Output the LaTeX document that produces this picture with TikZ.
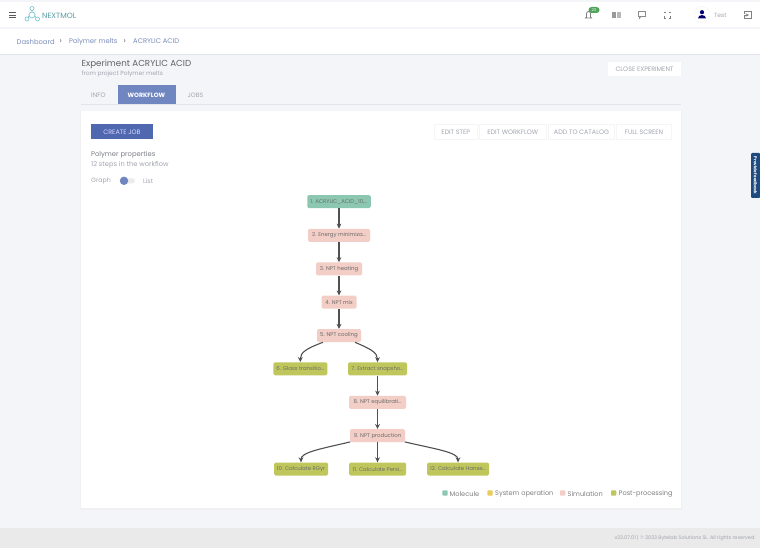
\documentclass[tikz,border=0pt]{standalone}
\usepackage{fontspec}
\usetikzlibrary{arrows.meta}
\setmainfont{Poppins}
\definecolor{pagebg}{HTML}{F3F5F9}
\definecolor{footbg}{HTML}{EAEAEA}
\definecolor{rulegrey}{HTML}{E1E4EC}
\definecolor{bluedark}{HTML}{4F68B0}
\definecolor{bluetab}{HTML}{6F86C0}
\definecolor{linkblue}{HTML}{7A8CB8}
\definecolor{textgrey}{HTML}{7C7F88}
\definecolor{lightgrey}{HTML}{A3A6B0}
\definecolor{molcol}{HTML}{8CC8B1}
\definecolor{syscol}{HTML}{EBCB5C}
\definecolor{simcol}{HTML}{F3CEC6}
\definecolor{postcol}{HTML}{BFC75C}
\definecolor{logoteal}{HTML}{6CC0CC}
\definecolor{edgecol}{HTML}{505050}
\definecolor{badgecol}{HTML}{4FA45A}
\definecolor{tabnavy}{HTML}{1F4A7E}
\tikzset{
	txt/.style={inner sep=0pt,anchor=west,yshift=-0.6pt,text=textgrey,font=\fontsize{#1}{#1}\selectfont},
	txt/.default=6.5,
	stepbox/.style={minimum width=#1,minimum height=13pt,inner sep=0pt,rounded corners=1.5pt,text=black!58,font=\fontsize{5.4}{6}\selectfont},
	toolbtn/.style={draw=black!4,fill=white,minimum height=15pt,inner sep=0pt,text=lightgrey,font=\fontsize{6.4}{6}\selectfont},
	flow/.style={edgecol,line width=1.1pt,-{Stealth[length=5pt,width=4.8pt]}},
	icon/.style={draw=black!50,line width=0.8pt}
}
\begin{document}
\begin{tikzpicture}[x=1pt,y=-1pt]
	\useasboundingbox (0,0) rectangle (760,548);
	\fill[pagebg] (0,0) rectangle (760,548);
	\fill[white] (0,2) rectangle (760,27);
	\fill[white] (0,29) rectangle (760,54);
	\draw[rulegrey,line width=0.5pt] (0,54.2) -- (760,54.2);
	\fill[footbg] (0,528) rectangle (760,548);
	% top bar
	\foreach \y in {12.9,15,17.1}{
		\draw[black!65,line width=0.9pt] (9,\y) -- (16,\y);
	}
	\draw[logoteal,line width=0.6pt] (32,8.5) -- (32,13) (29.5,15.5) -- (27.5,18) (34.5,15.5) -- (36.5,18);
	\foreach \x/\y/\r in {32/8.5/2,32/15/3,27/19/2,37.5/19/2}{
		\draw[logoteal,line width=0.6pt,fill=white] (\x,\y) circle (\r);
	}
	\node[txt=7.6,text=logoteal!80!black] (logotext) at (42,15) {NEXTMOL};
	\draw[icon] (585.5,18) -- (586.5,17) -- (586.5,13.5) arc (180:360:2) -- (590.5,17) -- (591.5,18) -- cycle;
	\node[fill=badgecol,rounded corners=3pt,minimum width=11pt,minimum height=6pt,inner sep=0pt,text=white,font=\fontsize{4}{4}\selectfont] (badge) at (594,10) {23};
	\fill[black!40] (611.5,12) rectangle (615.5,18.5);
	\fill[black!28] (616.5,12) rectangle (621,18.5);
	\fill[black!45] (637.5,11) rectangle (646,17);
	\fill[black!45] (639,17) -- (641,17) -- (639,19.5) -- cycle;
	\fill[white] (638.7,12.2) rectangle (644.8,15.8);
	\draw[icon,line width=0.6pt] (664,13.5) -- (664,12 ) -- (665.5,12) (668.5,12) -- (670,12) -- (670,13.5) (670,16.5) -- (670,18) -- (668.5,18) (665.5,18) -- (664,18) -- (664,16.5);
	\draw[black!5,fill=white] (702,14.5) circle (8);
	\fill[blue!45!black] (702,12.2) circle (2.1);
	\fill[blue!45!black] (698,18.5) arc (180:360:4 and 3.5) -- cycle;
	\node[txt=6,text=lightgrey] (username) at (714,14.7) {Test};
	\draw[icon,line width=0.5pt] (744.5,14) -- (744.5,11.5) -- (751.5,11.5) -- (751.5,18.5) -- (744.5,18.5) -- (744.5,16);
	\draw[black!50,line width=0.5pt,->,>=stealth] (743.5,15) -- (749,15);
	% breadcrumb
	\node[txt=6.8,text=linkblue] (crumba) at (16.5,41) {Dashboard};
	\node[txt=8,text=black!60] (sepa) at (59.5,41) {›};
	\node[txt=6.8,text=linkblue] (crumbb) at (69,41) {Polymer melts};
	\node[txt=8,text=black!60] (sepb) at (123.5,41) {›};
	\node[txt=6.8,text=linkblue] (crumbc) at (133,41) {ACRYLIC ACID};
	% heading and tabs
	\node[txt=8.7,text=black!62] (title) at (81.5,64) {Experiment ACRYLIC ACID};
	\node[txt=6,text=lightgrey] (subtitle) at (81.5,73.7) {from project Polymer melts};
	\node[fill=white,minimum width=72.5pt,minimum height=14pt,inner sep=0pt,text=lightgrey,font=\fontsize{6.4}{6}\selectfont] (closeexp) at (644.5,69.3) {CLOSE EXPERIMENT};
	\fill[bluetab] (117.5,85) rectangle (176,104);
	\draw[rulegrey,line width=0.7pt] (81,104.5) -- (681,104.5);
	\node[txt=6.4,text=lightgrey] (tabinfo) at (91,94.8) {INFO};
	\node[txt=6.2,text=white,font=\bfseries\fontsize{6.2}{6}\selectfont] (tabflow) at (127.5,94.8) {WORKFLOW};
	\node[txt=6.2,text=lightgrey] (tabjobs) at (187.5,94.8) {JOBS};
	% card
	\fill[black!6] (80,111) rectangle (682,509.5);
	\fill[white] (81,111) rectangle (681,508);
	\node[fill=bluedark,minimum width=62pt,minimum height=15pt,inner sep=0pt,text=white!85!blue,font=\fontsize{6.4}{6}\selectfont] (createjob) at (122,132) {CREATE JOB};
	\node[txt=6.8,text=textgrey] (wfname) at (91,154.2) {Polymer properties};
	\node[txt=6.7,text=lightgrey] (wfsteps) at (91,164) {12 steps in the workflow};
	\node[txt=6.3,text=lightgrey] (graphlabel) at (91,180.5) {Graph};
	\node[txt=6.3,text=lightgrey] (listlabel) at (143,180.5) {List};
	\fill[black!8,rounded corners=2.5pt] (120,178.3) rectangle (135,183.3);
	\fill[bluetab] (124,180.8) circle (4.2);
	\node[toolbtn,minimum width=43.5pt] (editstep) at (455.7,132) {EDIT STEP};
	\node[toolbtn,minimum width=66.5pt] (editflow) at (512.7,132) {EDIT WORKFLOW};
	\node[toolbtn,minimum width=66pt] (addcat) at (581.5,132) {ADD TO CATALOG};
	\node[toolbtn,minimum width=55pt] (fullscr) at (644,132) {FULL SCREEN};
	\node[fill=tabnavy,rounded corners=1pt,inner sep=0pt,rotate=270,text=white,font=\bfseries\fontsize{4.2}{5}\selectfont,minimum width=45pt,minimum height=9pt] (feedback) at (755.5,175.5) {Provide feedback};
	% workflow
	\foreach \nm/\col/\bw/\x/\y/\lbl in {
		a/molcol/63.5/339/201.7/{1. ACRYLIC\_ACID\_10,…},
		b/simcol/62/339/235.3/{2. Energy minimiza…},
		c/simcol/46/339/268.8/{3. NPT heating},
		d/simcol/35/339/302.2/{4. NPT mix},
		e/simcol/44/339/335.6/{5. NPT cooling},
		f/postcol/54/300.3/368.8/{6. Glass transitio…},
		g/postcol/59/377.5/368.8/{7. Extract snapsho…},
		h/simcol/57/377.5/402.3/{8. NPT equilibrati…},
		i/simcol/55/377.5/435.7/{9. NPT production},
		j/postcol/54/301/469/{10. Calculate RGyr},
		k/postcol/57/377.5/469/{11. Calculate Persi…},
		l/postcol/62/458/469/{12. Calculate Hanse…}}{
		\node[stepbox=\bw pt,fill=\col] (step\nm) at (\x,\y) {\lbl};
	}
	\foreach \p/\q in {a/b,b/c,c/d,d/e,g/h,h/i,i/k}{
		\draw[flow] (step\p) -- (step\q);
	}
	\draw[flow] ([xshift=-16pt]stepe.south) .. controls ++(-16,6) and ++(0,-10) .. (stepf.north);
	\draw[flow] ([xshift=16pt]stepe.south) .. controls ++(14,6) and ++(0,-10) .. (stepg.north);
	\draw[flow] ([xshift=0.5pt,yshift=0.5pt]stepi.south west) .. controls ++(-30,7) and ++(0,-10) .. (stepj.north);
	\draw[flow] ([xshift=-0.5pt,yshift=0.5pt]stepi.south east) .. controls ++(30,7) and ++(0,-10) .. (stepl.north);
	% legend
	\foreach \nm/\col/\x/\tx/\lbl in {mol/molcol/445/449.5/Molecule,sys/syscol/490/495/System operation,sim/simcol/562.7/567.5/Simulation,post/postcol/613.7/618.5/Post-processing}{
		\fill[\col,rounded corners=0.8pt] (\x-2.7,490.4) rectangle (\x+2.7,495.6);
		\node[txt=6.6,text=black!50] (leg\nm) at (\tx,493.2) {\lbl};
	}
	\node[inner sep=0pt,anchor=east,text=lightgrey,font=\fontsize{5}{5}\selectfont] (footnote) at (755.7,538) {v23.07.01 | © 2023 Bytelab Solutions SL. All rights reserved.};
\end{tikzpicture}
\end{document}
